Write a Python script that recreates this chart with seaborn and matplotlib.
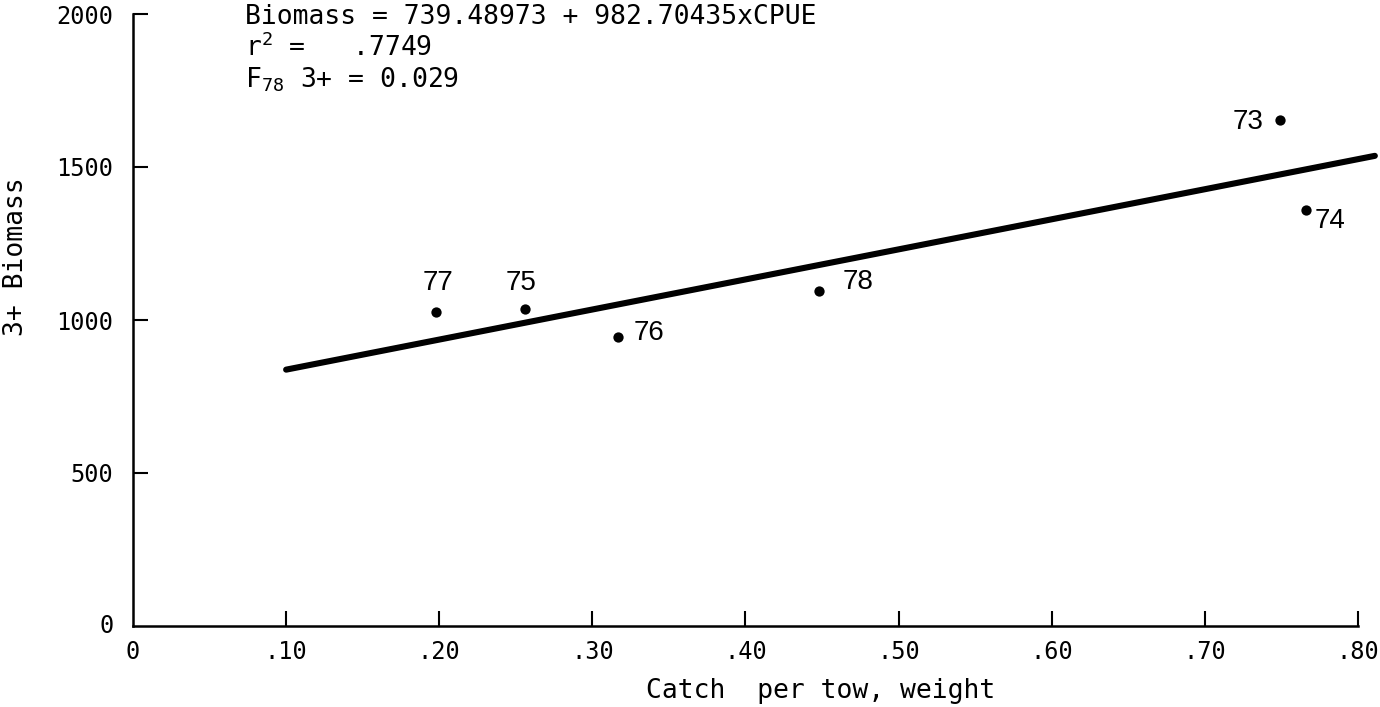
import numpy as np
import matplotlib
matplotlib.use("Agg")
import matplotlib.pyplot as plt
import pandas as pd
import seaborn as sns

# data
years = ["77", "75", "76", "78", "73", "74"]
cpue = [0.198, 0.256, 0.317, 0.448, 0.749, 0.766]
biomass = [1027, 1035, 943, 1096, 1652, 1359]

# fitted line printed on the chart
intercept = 739.48973
slope = 982.70435
line_x = [0.10, 0.811]

xticks = [0.10, 0.20, 0.30, 0.40, 0.50, 0.60, 0.70, 0.80]
xticklabels = [".10", ".20", ".30", ".40", ".50", ".60", ".70", ".80"]
yticks = [500, 1000, 1500, 2000]

df = pd.DataFrame({"year": years, "cpue": cpue, "biomass": biomass})
fit = pd.DataFrame({"cpue": line_x})
fit["biomass"] = intercept + slope * fit["cpue"]

sns.set_theme(style="ticks")
plt.rcParams["font.family"] = ["DejaVu Sans Mono"]
plt.rcParams["mathtext.fontset"] = "custom"
plt.rcParams["mathtext.rm"] = "DejaVu Sans Mono"
plt.rcParams["mathtext.it"] = "DejaVu Sans Mono"
plt.rcParams["text.color"] = "black"
plt.rcParams["axes.labelcolor"] = "black"

fig = plt.figure(figsize=(13.8, 7.07), dpi=100)
ax = fig.add_axes([133 / 1380, 1 - 626 / 707, 1225 / 1380, 612 / 707])

sns.lineplot(data=fit, x="cpue", y="biomass", ax=ax, color="black",
             linewidth=4.4, solid_capstyle="round", clip_on=False)
sns.scatterplot(data=df, x="cpue", y="biomass", ax=ax, color="black",
                s=55, edgecolor="black", linewidth=0, zorder=3)

# year labels next to the points
offsets = {"77": (1, 21, "center"), "75": (-3, 19, "center"),
           "76": (11, 3, "left"), "78": (17, 6, "left"),
           "73": (-12, -1, "right"), "74": (6, -8, "left")}
for yr, xv, yv in zip(years, cpue, biomass):
    dx, dy, ha = offsets[yr]
    ax.annotate(yr, (xv, yv), xytext=(dx, dy), textcoords="offset points",
                ha=ha, va="center", fontsize=20, family="Liberation Sans",
                color="black")

ax.set_xlim(0, 0.80)
ax.set_ylim(0, 2000)
ax.set_xticks(xticks)
ax.set_xticklabels(xticklabels)
ax.set_yticks(yticks)
ax.tick_params(axis="both", direction="in", length=11, width=1.5,
               labelsize=17, colors="black")
ax.tick_params(axis="x", pad=10)
ax.tick_params(axis="y", pad=14)
for side in ["top", "right"]:
    ax.spines[side].set_visible(False)
for side in ["left", "bottom"]:
    ax.spines[side].set_linewidth(1.8)
    ax.spines[side].set_color("black")

# zeros at the origin, set as plain text (no tick marks there)
ax.annotate("0", (0, 0), xytext=(-14, 0), textcoords="offset points",
            ha="right", va="center", fontsize=17, annotation_clip=False)
ax.annotate("0", (0, 0), xytext=(0, -10), textcoords="offset points",
            ha="center", va="top", fontsize=17, annotation_clip=False)

ax.set_xlabel("Catch  per tow, weight", fontsize=19)
ax.xaxis.set_label_coords(0.561, -0.085)
ax.set_ylabel("3+ Biomass", fontsize=19)
ax.yaxis.set_label_coords(-0.085, 0.603)

# equation block
tx = 245 / 1380
fig.text(tx, 1 - 17 / 707, "Biomass = 739.48973 + 982.70435xCPUE",
         fontsize=19, va="center", ha="left")
fig.text(tx, 1 - 48 / 707, r"r$^{2}$ =   .7749", fontsize=19,
         va="center", ha="left")
fig.text(tx, 1 - 80 / 707, r"F$_{78}$ 3+ = 0.029", fontsize=19,
         va="center", ha="left")

fig.savefig("out.png", dpi=100, facecolor="white")
